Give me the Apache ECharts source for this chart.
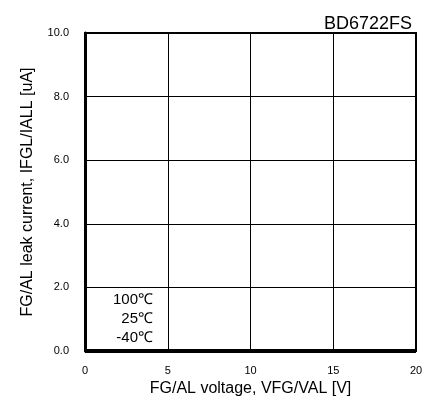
<!DOCTYPE html>
<html><head><meta charset="utf-8">
<script src="https://cdn.jsdelivr.net/npm/echarts@6/dist/echarts.min.js"></script>
<style>html,body{margin:0;padding:0;background:#fff}#c{width:435px;height:407px}</style>
</head><body><div id="c"></div>
<script>
const xValues = [0, 5, 10, 15, 20];
const seriesNames = ['100℃', '25℃', '-40℃'];
const leak100 = [0, 0, 0, 0, 0];
const leak25 = [0, 0, 0, 0, 0];
const leakM40 = [0, 0, 0, 0, 0];
const titleText = 'BD6722FS';
const xName = 'FG/AL voltage, VFG/VAL [V]';
const yName = 'FG/AL leak current, IFGL/IALL [uA]';

const font = 'Arial, "Liberation Sans", sans-serif';
const chart = echarts.init(document.getElementById('c'), null, {renderer: 'canvas'});
const mk = (arr) => xValues.map((x, i) => [x, arr[i]]);
const allSeries = [leak100, leak25, leakM40].map((d, i) => ({
  name: seriesNames[i], type: 'line', data: mk(d), symbol: 'none',
  lineStyle: {color: '#000', width: 4}, z: 5, clip: false
}));
chart.setOption({
  animation: false,
  title: {text: titleText, right: 18, top: 10, textStyle: {fontFamily: font, fontSize: 18, fontWeight: 'normal', color: '#000'}},
  grid: {left: 85, top: 33, width: 331, height: 318, show: true, borderColor: '#000', borderWidth: 2},
  xAxis: {type: 'value', min: 0, max: 20, interval: 5,
    name: xName, nameLocation: 'middle', nameGap: 23,
    nameTextStyle: {fontFamily: font, fontSize: 16, color: '#000'},
    axisLine: {show: false}, axisTick: {show: false},
    axisLabel: {fontFamily: font, fontSize: 11, color: '#000', margin: 14},
    splitLine: {show: true, lineStyle: {color: '#000', width: 1}}},
  yAxis: {type: 'value', min: 0, max: 10, interval: 2,
    name: yName, nameLocation: 'middle', nameGap: 49,
    nameTextStyle: {fontFamily: font, fontSize: 16, color: '#000'},
    axisLine: {show: true, lineStyle: {color: '#000', width: 3}}, axisTick: {show: false},
    axisLabel: {fontFamily: font, fontSize: 11, color: '#000', margin: 16, formatter: v => v.toFixed(1)},
    splitLine: {show: true, lineStyle: {color: '#000', width: 1}}},
  graphic: seriesNames.map((n, i) => ({
    type: 'text', right: 435 - 153, top: 292 + i * 19,
    style: {text: n, font: '15px ' + font, fill: '#000', textAlign: 'right'}
  })),
  series: allSeries
});
</script></body></html>
